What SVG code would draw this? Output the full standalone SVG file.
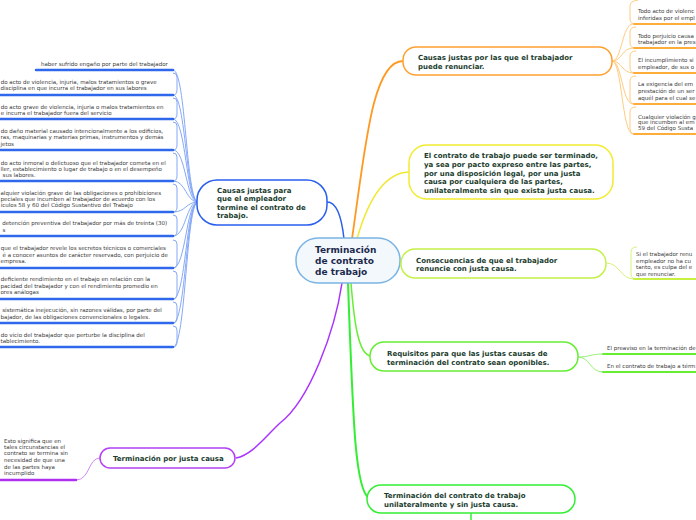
<svg xmlns="http://www.w3.org/2000/svg" width="696" height="520" viewBox="0 0 696 520">
<style>
.h{font-family:"DejaVu Sans",Verdana,sans-serif;font-weight:bold;font-size:7px;fill:#1b3d2e}
.c{font-family:"DejaVu Sans",Verdana,sans-serif;font-weight:bold;font-size:9px;fill:#1c2a4d}
.s{font-family:"DejaVu Sans",Verdana,sans-serif;font-size:5.5px;fill:#3a3a3a}
.box{fill:#ffffff;stroke-width:1.5}
.cn{fill:none}
.ul{fill:none;stroke-linecap:round}
</style>
<rect width="696" height="520" fill="#ffffff"/>
<g id="connectors">
  <path class="cn" d="M327,202 C337,202 342,220 344,239" stroke="#2a5fee" stroke-width="1.5"/>
  <path class="cn" d="M352,239 C365,150 372,61 403,61" stroke="#ff9922" stroke-width="1.8"/>
  <path class="cn" d="M357,239 C368,200 385,172 410,172" stroke="#f0e830" stroke-width="1.5"/>
  <path class="cn" d="M398,262 L402,263" stroke="#c4f048" stroke-width="1.5"/>
  <path class="cn" d="M351,283 C354,320 358,355 371,356" stroke="#66ee33" stroke-width="1.5"/>
  <path class="cn" d="M348,283 C353,420 355,490 369,498" stroke="#33ee33" stroke-width="2"/>
  <path class="cn" d="M342,283 C335,330 310,400 280,423 C265,437 252,455 236,458" stroke="#aa33ff" stroke-width="1.5"/>
  <g stroke="#85a8f7" stroke-width="1" fill="none">
    <path d="M173,70 C186,70 186,202 198,202"/>
    <path d="M173,95 C186,95 186,202 198,202"/>
    <path d="M173,119 C186,119 186,202 198,202"/>
    <path d="M173,150 C186,150 186,202 198,202"/>
    <path d="M173,181 C186,181 186,202 198,202"/>
    <path d="M173,212 C186,212 186,202 198,202"/>
    <path d="M173,236 C186,236 186,202 198,202"/>
    <path d="M173,268 C186,268 186,202 198,202"/>
    <path d="M173,299 C186,299 186,202 198,202"/>
    <path d="M173,323 C186,323 186,202 198,202"/>
    <path d="M173,347 C186,347 186,202 198,202"/>
    <path d="M173,95 Q177,95 177,90 L177,77 Q177,73 173,73"/>
    <path d="M173,119 Q177,119 177,114 L177,102 Q177,98 173,98"/>
    <path d="M173,150 Q177,150 177,145 L177,126 Q177,122 173,122"/>
    <path d="M173,181 Q177,181 177,176 L177,157 Q177,153 173,153"/>
    <path d="M173,212 Q177,212 177,207 L177,188 Q177,184 173,184"/>
    <path d="M173,236 Q177,236 177,231 L177,219 Q177,215 173,215"/>
    <path d="M173,268 Q177,268 177,263 L177,244 Q177,240 173,240"/>
    <path d="M173,299 Q177,299 177,294 L177,275 Q177,271 173,271"/>
    <path d="M173,323 Q177,323 177,318 L177,306 Q177,302 173,302"/>
    <path d="M173,347 Q177,347 177,342 L177,330 Q177,326 173,326"/>
  </g>
  <g stroke="#ffcb80" stroke-width="1" fill="none">
    <path d="M612,61 C622,61 622,24 633,24"/>
    <path d="M612,61 C622,61 622,48 633,48"/>
    <path d="M612,61 C622,61 622,73 633,73"/>
    <path d="M612,61 C622,61 622,104 633,104"/>
    <path d="M612,61 C622,61 622,134 633,134"/>
    <path d="M636,24 Q630,24 630,19 L630,6 Q630,1 638,0"/>
    <path d="M636,48 Q630,48 630,43 L630,32 Q630,27 636,27"/>
    <path d="M636,73 Q630,73 630,68 L630,56 Q630,51 636,51"/>
    <path d="M636,104 Q630,104 630,99 L630,81 Q630,76 636,76"/>
    <path d="M636,134 Q630,134 630,129 L630,112 Q630,107 636,107"/>
  </g>
  <path class="cn" d="M606,263 C620,263 620,279 634,279" stroke="#d6f27a" stroke-width="1"/>
  <path class="cn" d="M637,279 Q631,279 631,274 L631,252 Q631,247 637,247" stroke="#d6f27a" stroke-width="1"/>
  <path class="cn" d="M578,357 C590,357 590,354 603,354" stroke="#99f07a" stroke-width="1"/>
  <path class="cn" d="M578,357 C590,357 590,372 603,372" stroke="#99f07a" stroke-width="1"/>
  <path class="cn" d="M471,513 L471,520" stroke="#33ee33" stroke-width="1.5"/>
  <path class="cn" d="M76,480 C90,480 88,458 100,458" stroke="#d08cf8" stroke-width="1"/>
</g>

<g id="central">
  <rect x="296" y="238" width="104" height="45" rx="22" fill="#f3f8fc" stroke="#7ab4e4" stroke-width="1.5"/>
  <text class="c" x="315" y="253.3">Terminación</text>
  <text class="c" x="315" y="264.3">de contrato</text>
  <text class="c" x="315" y="275.3">de trabajo</text>
</g>

<g id="empleador">
  <rect class="box" x="197" y="180" width="130" height="45" rx="20" stroke="#2a5fee"/>
  <text class="h" x="217" y="192.5">Causas justas para</text>
  <text class="h" x="217" y="201.1">que el empleador</text>
  <text class="h" x="217" y="209.7">termine el contrato de</text>
  <text class="h" x="217" y="218.3">trabajo.</text>
</g>

<g id="empleador-leaves">
  <g stroke="#3068ec" stroke-width="2.5">
    <path class="ul" d="M36,70 L173,70"/>
    <path class="ul" d="M-5,95 L173,95"/>
    <path class="ul" d="M-5,119 L173,119"/>
    <path class="ul" d="M-5,150 L173,150"/>
    <path class="ul" d="M-5,181 L173,181"/>
    <path class="ul" d="M-5,212 L173,212"/>
    <path class="ul" d="M-5,236 L173,236"/>
    <path class="ul" d="M-5,268 L173,268"/>
    <path class="ul" d="M-5,299 L173,299"/>
    <path class="ul" d="M-5,323 L173,323"/>
    <path class="ul" d="M-5,347 L173,347"/>
  </g>
  <text class="s" x="41" y="66">haber sufrido engaño por parte del trabajador</text>
  <text class="s" x="0.7" y="83.7">do acto de violencia, injuria, malos tratamientos o grave</text>
  <text class="s" x="0.5" y="90.3">disciplina en que incurra el trabajador en sus labores</text>
  <text class="s" x="0.7" y="108.7">do acto grave de violencia, injuria o malos tratamientos en</text>
  <text class="s" x="0.8" y="115.3">e incurra el trabajador fuera del servicio</text>
  <text class="s" x="0.7" y="133">do daño material causado intencionalmente a los edificios,</text>
  <text class="s" x="0.6" y="139.3">ras, maquinarias y materias primas, instrumentos y demás</text>
  <text class="s" x="0.6" y="146">jetos</text>
  <text class="s" x="0.7" y="164.7">do acto inmoral o delictuoso que el trabajador cometa en el</text>
  <text class="s" x="0.5" y="171">ller, establecimiento o lugar de trabajo o en el desempeño</text>
  <text class="s" x="2.6" y="177">sus labores.</text>
  <text class="s" x="0.5" y="195.3">alquier violación grave de las obligaciones o prohibiciones</text>
  <text class="s" x="0.5" y="201">peciales que incumben al trabajador de acuerdo con los</text>
  <text class="s" x="0.8" y="207">ículos 58 y 60 del Código Sustantivo del Trabajo</text>
  <text class="s" x="2.2" y="225.3">detención preventiva del trabajador por más de treinta (30)</text>
  <text class="s" x="2.4" y="232">s</text>
  <text class="s" x="0.8" y="250.3">que el trabajador revele los secretos técnicos o comerciales</text>
  <text class="s" x="2.6" y="256.7">é a conocer asuntos de carácter reservado, con perjuicio de</text>
  <text class="s" x="0.6" y="263">empresa.</text>
  <text class="s" x="0.8" y="281.3">deficiente rendimiento en el trabajo en relación con la</text>
  <text class="s" x="0.5" y="287.7">pacidad del trabajador y con el rendimiento promedio en</text>
  <text class="s" x="0.5" y="294.3">ores análogas</text>
  <text class="s" x="2.2" y="312">sistemática inejecución, sin razones válidas, por parte del</text>
  <text class="s" x="0.6" y="318.7">bajador, de las obligaciones convencionales o legales.</text>
  <text class="s" x="0.7" y="337">do vicio del trabajador que perturbe la disciplina del</text>
  <text class="s" x="0.6" y="343">tablecimiento.</text>
</g>

<g id="trabajador">
  <rect class="box" x="403" y="47" width="209" height="28" rx="13" stroke="#ffa030"/>
  <text class="h" x="418" y="59.8">Causas justas por las que el trabajador</text>
  <text class="h" x="418" y="68.5">puede renunciar.</text>
</g>

<g id="trabajador-leaves">
  <g stroke="#ffad3a" stroke-width="2">
    <path class="ul" d="M634,24 L700,24"/>
    <path class="ul" d="M634,48 L700,48"/>
    <path class="ul" d="M634,73 L700,73"/>
    <path class="ul" d="M634,104 L700,104"/>
    <path class="ul" d="M634,134 L700,134"/>
  </g>
  <text class="s" x="638" y="12.7">Todo acto de violenc</text>
  <text class="s" x="638" y="20.3">inferidas por el empl</text>
  <text class="s" x="638" y="37.7">Todo perjuicio causa</text>
  <text class="s" x="638" y="43.7">trabajador en la pres</text>
  <text class="s" x="638" y="62">El incumplimiento si</text>
  <text class="s" x="638" y="68.7">empleador, de sus o</text>
  <text class="s" x="638" y="86.3">La exigencia del em</text>
  <text class="s" x="638" y="92.7">prestación de un ser</text>
  <text class="s" x="638" y="99.7">aquél para el cual se</text>
  <text class="s" x="638" y="118.7">Cualquier violación g</text>
  <text class="s" x="638" y="124.3">que incumben al em</text>
  <text class="s" x="638" y="130.3">59 del Código Susta</text>
</g>

<g id="definicion">
  <rect class="box" x="409" y="145" width="204" height="54" rx="18" stroke="#f2ec30"/>
  <text class="h" x="424" y="158.2">El contrato de trabajo puede ser terminado,</text>
  <text class="h" x="424" y="166.8">ya sea por pacto expreso entre las partes,</text>
  <text class="h" x="424" y="175.5">por una disposición legal, por una justa</text>
  <text class="h" x="424" y="184.2">causa por cualquiera de las partes,</text>
  <text class="h" x="424" y="192.5">unilateralmente sin que exista justa causa.</text>
</g>

<g id="consecuencias">
  <rect class="box" x="401" y="249" width="205" height="29" rx="14" stroke="#c4f048"/>
  <text class="h" x="416" y="262.5">Consecuencias de que el trabajador</text>
  <text class="h" x="416" y="271.2">renuncie con justa causa.</text>
</g>

<g id="consecuencias-leaf">
  <path class="ul" d="M634,279 L700,279" stroke="#c8f040" stroke-width="2"/>
  <text class="s" x="636" y="256">Si el trabajador renu</text>
  <text class="s" x="636" y="262.5">empleador no ha cu</text>
  <text class="s" x="636" y="269">tanto, es culpa del e</text>
  <text class="s" x="636" y="275.5">que renunciar.</text>
</g>

<g id="requisitos">
  <rect class="box" x="370" y="342" width="208" height="29" rx="14" stroke="#66ee33"/>
  <text class="h" x="387" y="355.8">Requisitos para que las justas causas de</text>
  <text class="h" x="387" y="364.5">terminación del contrato sean oponibles.</text>
</g>

<g id="requisitos-leaves">
  <path class="ul" d="M603,354 L700,354" stroke="#66ee33" stroke-width="2"/>
  <path class="ul" d="M603,372 L700,372" stroke="#66ee33" stroke-width="2"/>
  <text class="s" x="607" y="350.3">El preaviso en la terminación de</text>
  <text class="s" x="607" y="368">En el contrato de trabajo a térm</text>
</g>

<g id="unilateral">
  <rect class="box" x="367" y="485" width="208" height="28" rx="14" stroke="#33ee33"/>
  <text class="h" x="384" y="498.2">Terminación del contrato de trabajo</text>
  <text class="h" x="384" y="506.8">unilateralmente y sin justa causa.</text>
</g>

<g id="justa-causa">
  <rect class="box" x="100" y="448" width="135" height="20" rx="10" stroke="#b340f5"/>
  <text class="h" x="113" y="460.8">Terminación por justa causa</text>
</g>

<g id="justa-causa-leaf">
  <path class="ul" d="M-5,480 L76,480" stroke="#b030f0" stroke-width="2.5"/>
  <text class="s" x="4" y="442.7">Esto significa que en</text>
  <text class="s" x="4" y="448.7">tales circunstancias el</text>
  <text class="s" x="4" y="455.3">contrato se termina sin</text>
  <text class="s" x="4" y="462">necesidad de que una</text>
  <text class="s" x="4" y="468.7">de las partes haya</text>
  <text class="s" x="4" y="475.3">incumplido</text>
</g>
</svg>
